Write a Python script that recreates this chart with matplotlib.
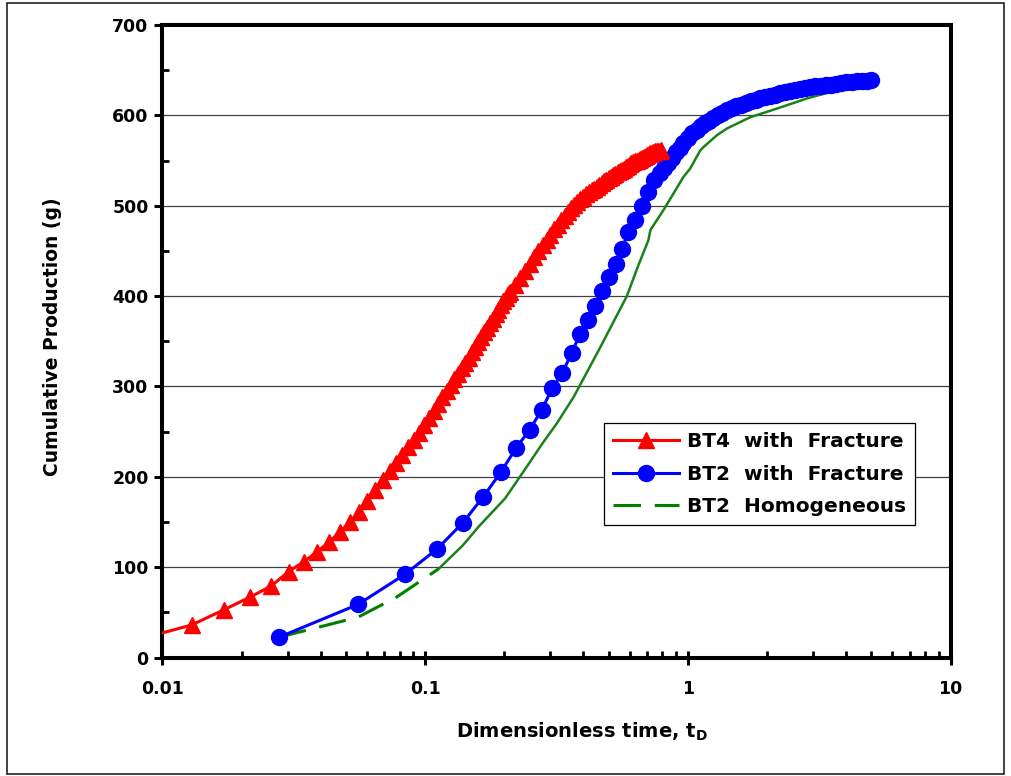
import numpy as np
import matplotlib
matplotlib.use('Agg')
import matplotlib.pyplot as plt
from matplotlib.patches import Rectangle
from matplotlib.lines import Line2D
from matplotlib.ticker import LogLocator, FixedLocator, NullFormatter

plt.rcParams['font.family'] = ['DejaVu Sans']
plt.rcParams['font.weight'] = 'bold'
plt.rcParams['mathtext.fontset'] = 'dejavusans'

# BT4 with fracture (red triangles)
bt4_t = [0.0086, 0.0129, 0.0172, 0.0216, 0.0259, 0.0302, 0.0345, 0.0388, 0.0431, 0.0474,
         0.0517, 0.0560, 0.0603, 0.0647, 0.0690, 0.0733, 0.0776, 0.0819, 0.0862, 0.0905,
         0.0948, 0.0991, 0.1034, 0.1078, 0.1121, 0.1164, 0.1207, 0.1250, 0.1293, 0.1336,
         0.1379, 0.1422, 0.1465, 0.1509, 0.1552, 0.1595, 0.1638, 0.1681, 0.1724, 0.1767,
         0.1810, 0.1853, 0.1896, 0.1940, 0.1980, 0.2026, 0.2070,
         0.21, 0.22, 0.23, 0.24, 0.25, 0.26, 0.27, 0.28, 0.29, 0.30, 0.31, 0.32, 0.33,
         0.34, 0.35, 0.36, 0.37, 0.38, 0.39, 0.40, 0.41, 0.42, 0.43, 0.44, 0.45, 0.46,
         0.47, 0.48, 0.49, 0.50, 0.51, 0.52, 0.53, 0.54, 0.55, 0.56, 0.57, 0.58, 0.59,
         0.60, 0.61, 0.62, 0.63, 0.64, 0.65, 0.66, 0.67, 0.68, 0.69, 0.70, 0.71, 0.72,
         0.73, 0.74, 0.75, 0.76, 0.77, 0.78, 0.79]
bt4_q = [22, 36, 53, 67, 79, 95, 106, 117, 128, 139,
         150, 161, 173, 185, 196, 206, 215, 224, 233, 241,
         249, 257, 265, 273, 281, 288, 295, 302, 308, 314,
         320, 326, 332, 338, 344, 349, 355, 360, 365, 370,
         375, 380, 385, 390, 394, 398, 402,
         405, 412, 420, 428, 436, 443, 450, 456, 462, 468, 474, 479, 484,
         489, 493, 497, 501, 504, 507, 510, 513, 515, 517, 519, 521, 523,
         525, 527, 529, 531, 532, 534, 535, 537, 538, 540, 541, 543, 544,
         546, 547, 548, 549, 550, 551, 552, 553, 554, 555, 556, 557, 558,
         558, 559, 560, 560, 561, 561, 562]

# BT2 with fracture (blue circles)
bt2f_t = [0.0278, 0.0555, 0.0837, 0.111, 0.139, 0.1665, 0.194, 0.222, 0.250, 0.2775,
          0.305, 0.333, 0.361, 0.389, 0.416, 0.444, 0.472, 0.503, 0.533, 0.561,
          0.594, 0.630, 0.668, 0.708, 0.746, 0.78, 0.81, 0.84, 0.87, 0.90,
          0.93, 0.96, 1.0, 1.04, 1.08, 1.12, 1.16, 1.2, 1.25, 1.3,
          1.35, 1.41, 1.47, 1.53, 1.6, 1.67, 1.74, 1.81, 1.89, 1.97,
          2.05, 2.15, 2.25, 2.35, 2.45, 2.55, 2.67, 2.8, 2.93, 3.06,
          3.2, 3.35, 3.5, 3.66, 3.83, 4.0, 4.2, 4.4, 4.6, 4.8, 4.96]
bt2f_q = [22.5, 58.7, 92, 120, 149, 178, 205, 232, 252, 274,
          298, 315, 337, 358, 373, 389, 406, 421, 436, 452,
          471, 484, 500, 515, 528, 536, 542, 547, 553, 559,
          564, 569, 575, 580, 584, 588, 591, 594, 597, 600,
          603, 606, 608, 610, 612, 614, 615.5, 617, 619, 620,
          621.5, 623, 624.5, 625.5, 627, 628, 629, 630, 631, 632,
          632.5, 633.5, 634, 635, 635.5, 636.5, 637, 637.5, 638, 638.5, 639]

# BT2 homogeneous (green dashed)
bt2h_t = [0.0278, 0.0555, 0.0778, 0.1124, 0.139, 0.16, 0.2014, 0.2435, 0.282, 0.317,
          0.367, 0.4635, 0.586, 0.65, 0.708, 0.72, 0.807, 0.963, 1.02, 1.114,
          1.148, 1.29, 1.41, 1.73, 2.19, 2.84, 3.5, 4.2, 4.9]
bt2h_q = [22.5, 44.6, 66.8, 98, 124, 145, 176, 211, 238.5, 259,
          288, 343, 400, 435, 462, 473, 495, 532, 541, 561,
          565, 578, 585.5, 598, 607.6, 618.7, 626, 632, 636]

fig = plt.figure(figsize=(10.11, 7.76), dpi=100)
ax = fig.add_axes([0.1607, 0.1527, 0.9402 - 0.1607, 0.9678 - 0.1527])

ax.plot(bt4_t, bt4_q, color='red', lw=2.2, marker='^', ms=11.5, mec='red', mfc='red', zorder=4)
ax.plot(bt2f_t, bt2f_q, color='blue', lw=2.2, marker='o', ms=11.5, mec='blue', mfc='blue', zorder=3)
# sparse early points drawn dashed, dense later part looks solid
ax.plot(bt2h_t[:4], bt2h_q[:4], color='#008000', lw=2.2, dashes=(9, 4.5), zorder=2)
ax.plot(bt2h_t[3:], bt2h_q[3:], color='#1a801a', lw=1.8, zorder=2)

ax.set_xscale('log')
ax.set_xlim(0.01, 10)
ax.set_ylim(0, 700)
ax.xaxis.set_major_locator(FixedLocator([0.01, 0.1, 1, 10]))
ax.xaxis.set_minor_locator(LogLocator(base=10, subs=np.arange(2, 10), numticks=20))
ax.xaxis.set_minor_formatter(NullFormatter())
ax.set_xticklabels(['0.01', '0.1', '1', '10'])
ax.set_yticks(np.arange(0, 701, 100))
ax.set_yticks(np.arange(50, 700, 100), minor=True)

ax.grid(axis='y', which='major', color='#404040', lw=0.9)
ax.set_axisbelow(True)
for s in ax.spines.values():
    s.set_linewidth(2.9)
    s.set_color('black')

ax.tick_params(axis='x', which='major', direction='inout', length=10, width=2.2, labelsize=12.5, pad=11)
ax.tick_params(axis='x', which='minor', direction='in', length=5, width=2)
ax.tick_params(axis='y', which='major', direction='out', length=6, width=2.2, labelsize=12.5, pad=4)
ax.tick_params(axis='y', which='minor', direction='in', length=5, width=2)
for lab in ax.get_xticklabels() + ax.get_yticklabels():
    lab.set_fontweight('bold')

ax.set_xlabel(r'Dimensionless time, t$_\mathbf{D}$', fontsize=14, fontweight='bold')
ax.set_ylabel('Cumulative Production (g)', fontsize=13.5, fontweight='bold')
ax.xaxis.set_label_coords(0.532, -0.100)
ax.yaxis.set_label_coords(-0.127, 0.507)

handles = [
    Line2D([], [], color='red', lw=2.2, marker='^', ms=11.5),
    Line2D([], [], color='blue', lw=2.2, marker='o', ms=11.5),
    Line2D([], [], color='#008000', lw=2.2, dashes=(9, 4.5)),
]
leg = ax.legend(handles, ['BT4  with  Fracture', 'BT2  with  Fracture', 'BT2  Homogeneous'],
                loc='upper left', bbox_to_anchor=(0.560, 0.3708), borderaxespad=0,
                prop={'weight': 'bold', 'size': 14.5}, numpoints=1,
                handlelength=3.3, handletextpad=0.36, labelspacing=0.68,
                borderpad=0.45, fancybox=False, framealpha=1, edgecolor='black')
leg.get_frame().set_linewidth(0.9)

fig.patches.append(Rectangle((7 / 1011, 1 - 774 / 776), 997 / 1011, 771 / 776,
                             transform=fig.transFigure, fill=False, ec='#222222', lw=1.2))

fig.savefig('out.png', dpi=100)
